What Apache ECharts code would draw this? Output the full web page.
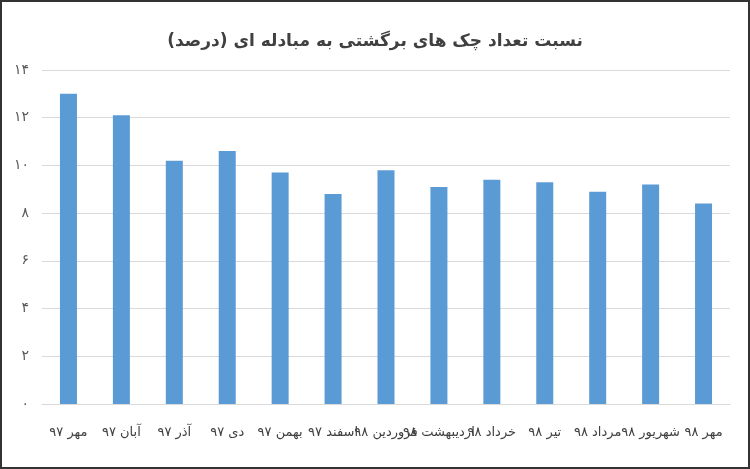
<!DOCTYPE html>
<html>
<head>
<meta charset="utf-8">
<script src="https://cdn.jsdelivr.net/npm/echarts@6/dist/echarts.min.js"></script>
<style>
html,body{margin:0;padding:0;background:#fff;}
#c{width:750px;height:469px;box-sizing:border-box;border:2px solid #333;}
</style>
</head>
<body>
<div id="c"></div>
<script>
const titleText = 'نسبت تعداد چک های برگشتی به مبادله ای (درصد)';
const categories = ['مهر ۹۷','آبان ۹۷','آذر ۹۷','دی ۹۷','بهمن ۹۷','اسفند ۹۷','فروردین ۹۸','اردیبهشت ۹۸','خرداد ۹۸','تیر ۹۸','مرداد ۹۸','شهریور ۹۸','مهر ۹۸'];
const values = [13.0, 12.1, 10.2, 10.6, 9.7, 8.8, 9.8, 9.1, 9.4, 9.3, 8.9, 9.2, 8.4];
const yTickLabels = ['۰','۲','۴','۶','۸','۱۰','۱۲','۱۴'];

const chart = echarts.init(document.getElementById('c'), null, {renderer:'canvas'});
chart.setOption({
  animation:false,
  textStyle:{fontFamily:'DejaVu Sans'},
  title:{text:titleText,left:'center',top:26,
    textStyle:{fontFamily:'DejaVu Sans',fontSize:17,fontWeight:'bold',color:'#404040'}},
  grid:{left:40,right:18,top:68,bottom:63},
  xAxis:{type:'category',data:categories,
    axisLine:{lineStyle:{color:'#d9d9d9',width:1}},
    axisTick:{show:false},
    axisLabel:{interval:0,hideOverlap:false,margin:22,fontSize:13,color:'#404040',fontFamily:'DejaVu Sans'}},
  yAxis:{type:'value',min:0,max:14,interval:2,
    axisLine:{show:false},axisTick:{show:false},
    splitLine:{lineStyle:{color:'#d9d9d9',width:1}},
    axisLabel:{margin:13,fontSize:14,color:'#595959',fontFamily:'DejaVu Sans',
      formatter:(v)=>yTickLabels[Math.round(v/2)]}},
  series:[{type:'bar',data:values,barWidth:17,itemStyle:{color:'#5b9bd5'}}]
});
</script>
</body>
</html>
